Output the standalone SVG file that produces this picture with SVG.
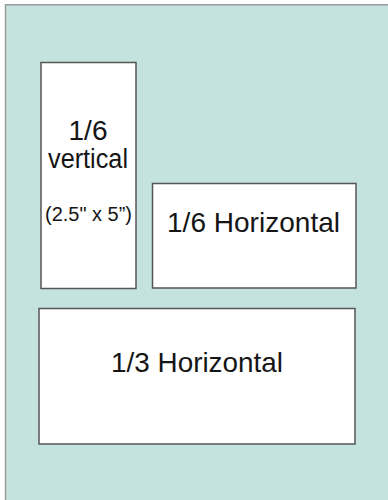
<svg xmlns="http://www.w3.org/2000/svg" width="388" height="500" viewBox="0 0 388 500">
  <style>
    .page { fill: #c5e3de; }
    .edge { stroke: #9a9a9a; stroke-width: 1.5; fill: none; }
    .ad { fill: #ffffff; stroke: #555555; stroke-width: 1.5; }
    .lbl { font-family: "Liberation Sans", Arial, sans-serif; font-size: 27px; fill: #151515; text-anchor: middle; }
    .big { font-size: 28px; }
    .dim { font-family: "Liberation Sans", Arial, sans-serif; font-size: 20px; fill: #151515; text-anchor: middle; }
  </style>
  <rect width="388" height="500" fill="#ffffff"/>
  <!-- page background -->
  <rect class="page" x="5" y="4.5" width="383" height="495.5"/>
  <path class="edge" d="M5.5 500 V4.75 H388"/>

  <g id="sixth-vertical">
    <rect class="ad" x="41" y="62.5" width="95" height="226"/>
    <text class="lbl" x="88" y="140" textLength="39" lengthAdjust="spacingAndGlyphs">1/6</text>
    <text class="lbl" x="88" y="168" textLength="80" lengthAdjust="spacingAndGlyphs">vertical</text>
    <text class="dim" x="88.5" y="221" textLength="87" lengthAdjust="spacingAndGlyphs">(2.5" x 5”)</text>
  </g>

  <g id="sixth-horizontal">
    <rect class="ad" x="152.5" y="183.5" width="203.5" height="104.5"/>
    <text class="lbl big" x="253.5" y="232" textLength="173" lengthAdjust="spacingAndGlyphs">1/6 Horizontal</text>
  </g>

  <g id="third-horizontal">
    <rect class="ad" x="39" y="308.5" width="316" height="135.5"/>
    <text class="lbl big" x="197" y="372" textLength="172" lengthAdjust="spacingAndGlyphs">1/3 Horizontal</text>
  </g>

  <g id="connectors"></g>
</svg>
